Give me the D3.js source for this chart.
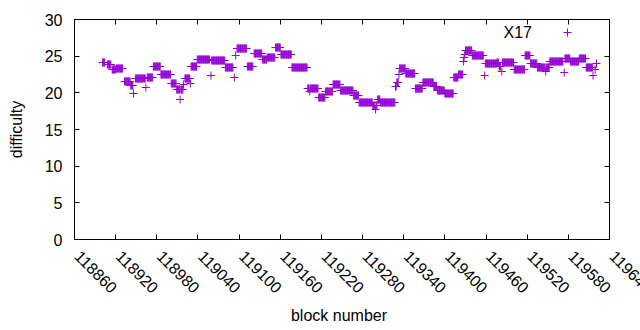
<!DOCTYPE html>
<html>
<head>
<meta charset="utf-8">
<script src="https://cdn.jsdelivr.net/npm/d3@7"></script>
<style>
  body { margin: 0; background: #fff; }
  text { font-family: "Liberation Sans", Arial, sans-serif; font-size: 16px; fill: #000; }
</style>
</head>
<body>
<div id="chart"></div>
<script>
var width = 640;
var height = 330;

var runStart = [118901, 118908, 118915, 118921, 118933, 118942, 118946, 118949, 118964, 118966,
                118975, 118986, 119001, 119009, 119014, 119015, 119019, 119021, 119029, 119030,
                119039, 119059, 119060, 119080, 119093, 119095, 119097, 119112, 119122, 119134,
                119141, 119153, 119161, 119177, 119200, 119203, 119204, 119216, 119226, 119237,
                119248, 119267, 119275, 119295, 119299, 119300, 119302, 119306, 119328, 119330,
                119333, 119334, 119343, 119357, 119368, 119384, 119389, 119400, 119413, 119420,
                119427, 119428, 119429, 119430, 119440, 119458, 119459, 119476, 119479, 119483,
                119484, 119501, 119517, 119525, 119535, 119547, 119548, 119553, 119574, 119575,
                119583, 119596, 119606, 119616, 119619, 119621];
var runEnd   = [118904, 118913, 118920, 118930, 118941, 118945, 118946, 118963, 118964, 118974,
                118985, 119000, 119008, 119013, 119014, 119018, 119019, 119028, 119029, 119038,
                119057, 119059, 119079, 119091, 119093, 119095, 119111, 119120, 119133, 119140,
                119152, 119160, 119176, 119199, 119202, 119203, 119215, 119225, 119236, 119247,
                119266, 119274, 119294, 119298, 119299, 119301, 119305, 119327, 119329, 119332,
                119333, 119342, 119356, 119367, 119383, 119388, 119399, 119412, 119419, 119426,
                119427, 119428, 119429, 119439, 119456, 119458, 119475, 119478, 119481, 119483,
                119500, 119516, 119524, 119534, 119546, 119547, 119552, 119572, 119574, 119582,
                119595, 119605, 119615, 119616, 119619, 119621];
var runDiff  = [24.2, 23.9, 23.2, 23.4, 21.6, 21.1, 20.0, 22.0, 20.8, 22.2,
                23.7, 22.6, 21.3, 20.5, 19.2, 20.5, 21.2, 22.0, 21.4, 23.7,
                24.6, 22.5, 24.5, 23.5, 22.1, 25.1, 26.1, 23.6, 25.4, 24.6,
                24.9, 26.2, 25.3, 23.5, 20.7, 20.2, 20.7, 19.4, 20.3, 21.2,
                20.4, 19.7, 18.7, 18.4, 17.8, 18.4, 19.2, 18.7, 20.9, 21.5,
                22.6, 23.4, 22.7, 20.7, 21.5, 20.9, 20.4, 20.0, 22.1, 22.6,
                24.4, 24.9, 25.3, 25.9, 25.2, 22.5, 24.0, 24.2, 23.7, 23.0,
                24.2, 23.3, 25.2, 24.1, 23.5, 23.0, 23.5, 24.3, 22.8, 24.8,
                24.3, 24.8, 23.5, 22.5, 23.3, 24.0];

var xTicks = d3.range(118860, 119641, 60);
var yTicks = [0, 5, 10, 15, 20, 25, 30];
var seriesName = 'X17';

var data = [];
for (var i = 0; i < runStart.length; i++) {
    for (var b = runStart[i]; b <= runEnd[i]; b++) {
        data.push({block: b, diff: runDiff[i]});
    }
}

var mLeft = 74.5, mRight = 609.5, mTop = 19.5, mBottom = 239.5;
var purple = '#9400d3';

var svg = d3.select('#chart').append('svg').attr('width', width).attr('height', height);

var x = d3.scaleLinear().domain([118860, 119640]).range([mLeft, mRight]);
var y = d3.scaleLinear().domain([0, 30]).range([mBottom, mTop]);

function plus(px, py, s) {
    return 'M' + (px - s) + ',' + py + 'H' + (px + s) + 'M' + px + ',' + (py - s) + 'V' + (py + s);
}

var axes = svg.append('g').attr('class', 'axes');
var tickLen = 5;

// x ticks, mirrored on top
axes.selectAll('.xtick').data(xTicks).enter().append('path')
    .attr('d', function(d) {
        var px = Math.round(x(d) - 0.5) + 0.5;
        return 'M' + px + ',' + mBottom + 'v' + (-tickLen) + 'M' + px + ',' + mTop + 'v' + tickLen;
    })
    .attr('stroke', '#000').attr('stroke-width', 1);

axes.selectAll('.ytick').data(yTicks).enter().append('path')
    .attr('d', function(d) {
        var py = Math.round(y(d) - 0.5) + 0.5;
        return 'M' + mLeft + ',' + py + 'h' + tickLen + 'M' + mRight + ',' + py + 'h' + (-tickLen);
    })
    .attr('stroke', '#000').attr('stroke-width', 1);

axes.append('rect')
    .attr('x', mLeft).attr('y', mTop)
    .attr('width', mRight - mLeft).attr('height', mBottom - mTop)
    .attr('fill', 'none').attr('stroke', '#000').attr('stroke-width', 1);

axes.selectAll('.ylab').data(yTicks).enter().append('text')
    .attr('x', mLeft - 12).attr('y', function(d) { return y(d) + 6; })
    .attr('text-anchor', 'end')
    .text(function(d) { return d; });

axes.selectAll('.xlab').data(xTicks).enter().append('text')
    .attr('text-anchor', 'start')
    .attr('transform', function(d) {
        return 'translate(' + (x(d) - 1) + ',' + (mBottom + 18) + ') rotate(45)';
    })
    .text(function(d) { return d; });

svg.append('text').attr('x', 339).attr('y', 321)
    .attr('text-anchor', 'middle').text('block number');

svg.append('text')
    .attr('transform', 'translate(' + 22 + ',' + ((mTop + mBottom) / 2) + ') rotate(-90)')
    .attr('text-anchor', 'middle').text('difficulty');

// points
var pts = svg.append('g').attr('class', 'points');
pts.selectAll('path').data(data).enter().append('path')
    .attr('d', function(d) { return plus(x(d.block), Math.round(y(d.diff)) + 0.5, 4); })
    .attr('stroke', purple).attr('stroke-width', 1).attr('fill', 'none');

// key
svg.append('text').attr('x', 532).attr('y', 38).attr('text-anchor', 'end').text(seriesName);
svg.append('path').attr('d', plus(567.5, 32.5, 4))
    .attr('stroke', purple).attr('stroke-width', 1).attr('fill', 'none');
</script>
</body>
</html>
